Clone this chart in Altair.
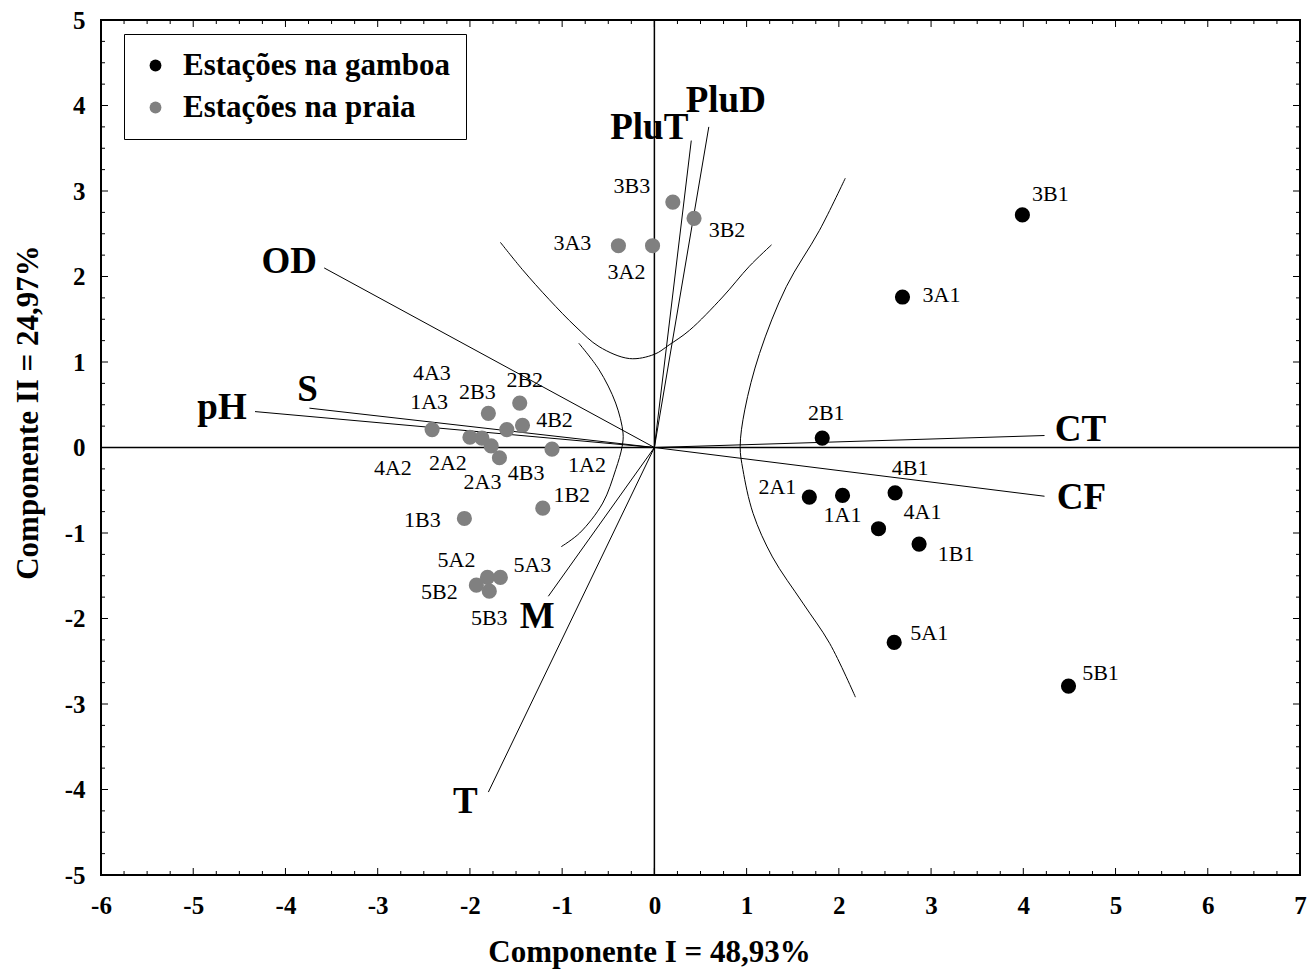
import altair as alt
import pandas as pd

# ---------------- layout constants ----------------
W, H = 1199, 855
X_DOMAIN = [-6, 7]
Y_DOMAIN = [-5, 5]
PX_X = W / (X_DOMAIN[1] - X_DOMAIN[0])
PX_Y = H / (Y_DOMAIN[1] - Y_DOMAIN[0])
SERIF = "Liberation Serif"

# ---------------- data ----------------
grupo_gamboa = "Estações na gamboa"
grupo_praia = "Estações na praia"

gamboa_names = ["1A1", "1B1", "2A1", "2B1", "3A1", "3B1", "4A1", "4B1", "5A1", "5B1"]
gamboa_x = [2.04, 2.87, 1.68, 1.82, 2.69, 3.99, 2.43, 2.61, 2.60, 4.49]
gamboa_y = [-0.56, -1.13, -0.58, 0.11, 1.76, 2.72, -0.95, -0.53, -2.28, -2.79]

praia_names = ["1A2", "1A3", "1B2", "1B3", "2A2", "2A3", "2B2", "2B3", "3A2", "3A3",
               "3B2", "3B3", "4A2", "4A3", "4B2", "4B3", "5A2", "5A3", "5B2", "5B3"]
praia_x = [-1.11, -2.41, -1.21, -2.06, -1.87, -1.68, -1.46, -1.80, -0.02, -0.39,
           0.43, 0.20, -2.00, -1.60, -1.43, -1.77, -1.81, -1.67, -1.93, -1.79]
praia_y = [-0.02, 0.21, -0.71, -0.83, 0.11, -0.12, 0.52, 0.40, 2.36, 2.36,
           2.68, 2.87, 0.12, 0.21, 0.26, 0.02, -1.52, -1.52, -1.61, -1.68]

vector_names = ["pH", "S", "OD", "PluT", "PluD", "CT", "CF", "M", "T"]
vector_x = [-4.33, -3.74, -3.58, 0.40, 0.59, 4.23, 4.23, -1.15, -1.80]
vector_y = [0.42, 0.46, 2.10, 3.59, 3.75, 0.14, -0.57, -1.74, -4.03]

# curves
curve_top_x = [-1.67, -1.43, -1.14, -0.85, -0.60, -0.27, 0.00, 0.16, 0.38, 0.74, 1.03, 1.27]
curve_top_y = [2.40, 2.08, 1.73, 1.41, 1.18, 1.04, 1.09, 1.20, 1.37, 1.76, 2.12, 2.37]
curve_left_x = [-0.82, -0.60, -0.42, -0.34, -0.35, -0.42, -0.56, -0.81, -1.01]
curve_left_y = [1.22, 0.91, 0.52, 0.17, 0.01, -0.26, -0.65, -1.00, -1.16]
curve_right_x = [2.07, 1.79, 1.43, 1.14, 0.98, 0.93, 0.96, 1.07, 1.28, 1.61, 1.90, 2.18]
curve_right_y = [3.15, 2.54, 1.88, 1.10, 0.44, 0.01, -0.26, -0.77, -1.28, -1.82, -2.29, -2.92]

x_tick_labels = list(range(-6, 8))
y_tick_labels = list(range(-5, 6))
x_minor = [v / 4 for v in range(-24, 29) if v % 4]
y_minor = [v / 4 for v in range(-20, 21) if v % 4]

# label offsets in pixels (label centre relative to its point)
station_label_offset = {
    "1A1": (0, 20), "1B1": (37, 10), "2A1": (-32, -10), "2B1": (4, -25),
    "3A1": (39, -2), "3B1": (28, -21), "4A1": (44, -17), "4B1": (15, -25),
    "5A1": (35, -9), "5B1": (32, -13),
    "1A2": (35, 16), "1A3": (-3, -28), "1B2": (29, -13), "1B3": (-42, 2),
    "2A2": (-34, 25), "2A3": (-17, 24), "2B2": (5, -23), "2B3": (-11, -21),
    "3A2": (-26, 26), "3A3": (-46, -3), "3B2": (33, 12), "3B3": (-41, -16),
    "4A2": (-77, 31), "4A3": (-75, -57), "4B2": (32, -5), "4B3": (35, 27),
    "5A2": (-31, -17), "5A3": (32, -12), "5B2": (-37, 7), "5B3": (0, 27),
}
vector_label_offset = {
    "pH": (-33, -4), "S": (-2, -18), "OD": (-35, -6), "PluT": (-42, -13),
    "PluD": (17, -26), "CT": (36, -6), "CF": (37, 2), "M": (-11, 21), "T": (-23, 10),
}

# ---------------- frames ----------------
pts = pd.DataFrame({
    "nome": gamboa_names + praia_names,
    "x": gamboa_x + praia_x,
    "y": gamboa_y + praia_y,
    "grupo": [grupo_gamboa] * len(gamboa_names) + [grupo_praia] * len(praia_names),
})
pts["lx"] = [x + station_label_offset[n][0] / PX_X for n, x in zip(pts.nome, pts.x)]
pts["ly"] = [y - station_label_offset[n][1] / PX_Y for n, y in zip(pts.nome, pts.y)]

vec = pd.DataFrame({"nome": vector_names, "x": vector_x, "y": vector_y})
vec["x0"] = 0.0
vec["y0"] = 0.0
vec["lx"] = [x + vector_label_offset[n][0] / PX_X for n, x in zip(vec.nome, vec.x)]
vec["ly"] = [y - vector_label_offset[n][1] / PX_Y for n, y in zip(vec.nome, vec.y)]

curves = pd.concat([
    pd.DataFrame({"curve": "top", "x": curve_top_x, "y": curve_top_y, "i": range(len(curve_top_x))}),
    pd.DataFrame({"curve": "left", "x": curve_left_x, "y": curve_left_y, "i": range(len(curve_left_x))}),
    pd.DataFrame({"curve": "right", "x": curve_right_x, "y": curve_right_y, "i": range(len(curve_right_x))}),
], ignore_index=True)

xs = alt.Scale(domain=X_DOMAIN, nice=False, zero=False)
ys = alt.Scale(domain=Y_DOMAIN, nice=False, zero=False)

x_axis = alt.Axis(
    values=x_tick_labels, labelExpr="'' + datum.value", title="Componente I = 48,93%",
    labelFont=SERIF, labelFontSize=25, labelFontWeight="bold", labelColor="black",
    labelPadding=18, labelFlush=False, labelOverlap=False,
    ticks=False, tickSize=0, domain=False, grid=False,
    titleFont=SERIF, titleFontSize=31, titleFontWeight="bold", titleColor="black",
    titleX=548, titleY=77, titleAlign="center", titleBaseline="middle",
)
y_axis = alt.Axis(
    values=y_tick_labels, labelExpr="'' + datum.value", title="Componente II = 24,97%",
    labelFont=SERIF, labelFontSize=25, labelFontWeight="bold", labelColor="black",
    labelPadding=16, labelFlush=False, labelOverlap=False,
    ticks=False, tickSize=0, domain=False, grid=False,
    titleFont=SERIF, titleFontSize=31, titleFontWeight="bold", titleColor="black",
    titleX=-73, titleY=392, titleAlign="center", titleBaseline="middle", titleAngle=270,
)


def X(field):
    return alt.X(field, type="quantitative", scale=xs, axis=x_axis)


def Y(field):
    return alt.Y(field, type="quantitative", scale=ys, axis=y_axis)


# ---------------- layers ----------------
curve_layer = alt.Chart(curves).mark_line(
    interpolate="catmull-rom", color="black", strokeWidth=1
).encode(x=X("x"), y=Y("y"), detail="curve:N", order="i:Q")

vector_layer = alt.Chart(vec).mark_rule(color="black", strokeWidth=1).encode(
    x=X("x0"), y=Y("y0"), x2="x:Q", y2="y:Q")

zero_df = pd.DataFrame({"z": [0.0]})
hzero = alt.Chart(zero_df).mark_rule(color="black", strokeWidth=1.5).encode(y=Y("z"))
vzero = alt.Chart(zero_df).mark_rule(color="black", strokeWidth=1.5).encode(x=X("z"))


def xtick_layers(vals, length):
    d = pd.DataFrame({"v": vals})
    base = alt.Chart(d).mark_rule(color="black", strokeWidth=1)
    return [base.encode(x=X("v"), y=alt.value(H), y2=alt.value(H - length)),
            base.encode(x=X("v"), y=alt.value(0), y2=alt.value(length))]


def ytick_layers(vals, length):
    d = pd.DataFrame({"v": vals})
    base = alt.Chart(d).mark_rule(color="black", strokeWidth=1)
    return [base.encode(y=Y("v"), x=alt.value(0), x2=alt.value(length)),
            base.encode(y=Y("v"), x=alt.value(W), x2=alt.value(W - length))]


ticks = (xtick_layers(x_tick_labels, 7) + xtick_layers(x_minor, 4)
         + ytick_layers(y_tick_labels, 7) + ytick_layers(y_minor, 4))

point_layer = alt.Chart(pts).mark_circle(size=230, opacity=1).encode(
    x=X("x"),
    y=Y("y"),
    color=alt.Color(
        "grupo:N",
        scale=alt.Scale(domain=[grupo_gamboa, grupo_praia], range=["#000000", "#808080"]),
        legend=alt.Legend(
            orient="none", legendX=23, legendY=14, title=None,
            labelFont=SERIF, labelFontSize=31, labelFontWeight="bold", labelColor="black",
            labelLimit=600, labelOffset=12,
            symbolType="circle", symbolSize=140, symbolStrokeWidth=0,
            padding=16, rowPadding=10,
            strokeColor="black", fillColor="white",
        ),
    ),
)

station_text = alt.Chart(pts).mark_text(
    font=SERIF, fontSize=22, color="black", align="center", baseline="middle"
).encode(x=X("lx"), y=Y("ly"), text="nome:N")

vector_text = alt.Chart(vec).mark_text(
    font=SERIF, fontSize=37, fontWeight="bold", color="black", align="center", baseline="middle"
).encode(x=X("lx"), y=Y("ly"), text="nome:N")

chart = alt.layer(
    curve_layer, vector_layer, hzero, vzero, *ticks, point_layer, station_text, vector_text
).properties(
    width=W, height=H,
    autosize=alt.AutoSizeParams(type="none"),
    padding={"left": 101, "top": 20, "right": 15, "bottom": 97},
    background="white",
).configure_view(stroke="black", strokeWidth=2)

chart.save("out.html", embed_options={"renderer": "svg", "actions": False})
